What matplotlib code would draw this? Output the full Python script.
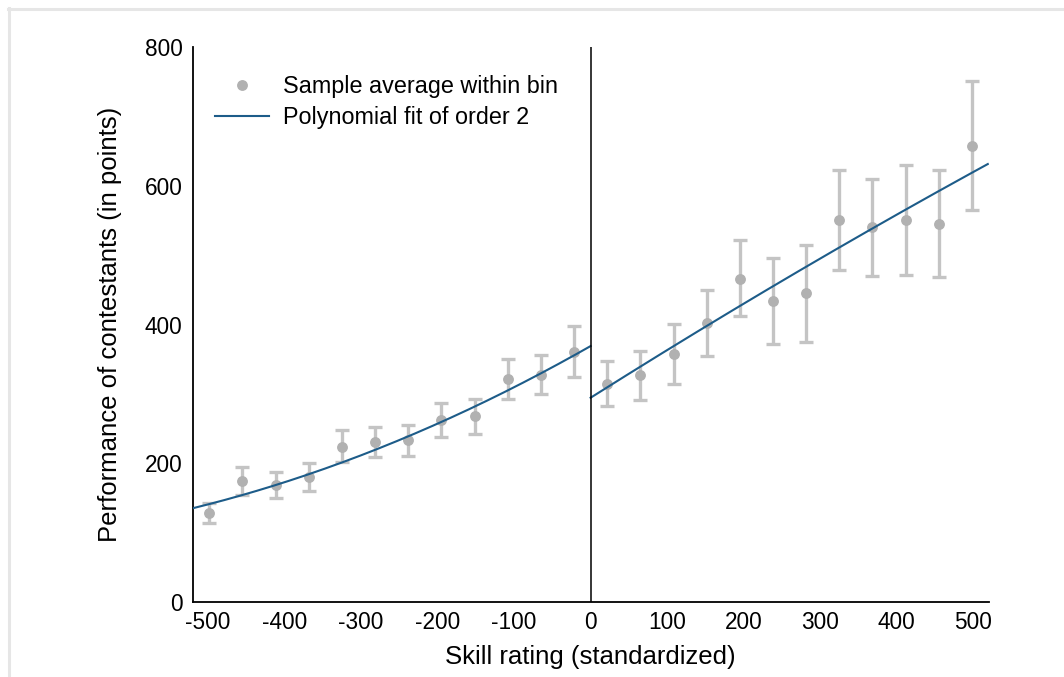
import numpy as np
import matplotlib
matplotlib.use("Agg")
import matplotlib.pyplot as plt
from matplotlib.lines import Line2D

plt.rcParams['font.family'] = ['Liberation Sans', 'DejaVu Sans']
plt.rcParams['axes.unicode_minus'] = False

# ---- data ----
x_left = [-498.3, -455.0, -411.7, -368.3, -325.0, -281.7, -238.3, -195.0, -151.7, -108.3, -65.0, -21.7]
y_left = [129, 175, 169, 181, 224, 231, 234, 262, 268, 321, 328, 361]
lo_left = [114, 155, 150, 160, 202, 209, 211, 238, 243, 293, 300, 324]
hi_left = [143, 195, 188, 200, 248, 253, 256, 287, 293, 351, 356, 398]

x_right = [21.7, 65.0, 108.3, 151.7, 195.0, 238.3, 281.7, 325.0, 368.3, 411.7, 455.0, 498.3]
y_right = [315, 327, 358, 402, 466, 434, 445, 550, 540, 550, 545, 657]
lo_right = [283, 292, 315, 354, 412, 372, 375, 478, 470, 472, 468, 565]
hi_right = [348, 362, 401, 449, 521, 496, 514, 623, 610, 629, 623, 751]

# quadratic fit coefficients (highest power first), each side of the cutoff
fit_left = [3.42e-4, 0.627, 369.0]
fit_right = [-9.0e-5, 0.695, 294.6]

x_ticks = [-500, -400, -300, -200, -100, 0, 100, 200, 300, 400, 500]
y_ticks = [0, 200, 400, 600, 800]

# ---- styling ----
dot_color = '#b1b1b1'
bar_color = '#c4c4c4'
line_color = '#1d5c89'

fig = plt.figure(figsize=(10.64, 6.77), dpi=100)
ax = fig.add_axes([0.1811, 0.1103, 0.748, 0.8207])

for xs, ys, lo, hi in [(x_left, y_left, lo_left, hi_left), (x_right, y_right, lo_right, hi_right)]:
    ys = np.array(ys, float)
    yerr = np.vstack([ys - np.array(lo, float), np.array(hi, float) - ys])
    ax.errorbar(xs, ys, yerr=yerr, fmt='none', ecolor=bar_color, elinewidth=2.4,
                capsize=5, capthick=2.4, zorder=2)
    ax.plot(xs, ys, 'o', color=dot_color, markersize=6.8, zorder=3)

xl = np.linspace(-520, 0, 200)
xr = np.linspace(0, 519, 200)
ax.plot(xl, np.polyval(fit_left, xl), color=line_color, lw=1.5, zorder=4)
ax.plot(xr, np.polyval(fit_right, xr), color=line_color, lw=1.5, zorder=4)

ax.axvline(0, color='black', lw=1.1, zorder=5)

ax.set_xlim(-520, 520)
ax.set_ylim(0, 800)
ax.set_xticks(x_ticks)
ax.set_yticks(y_ticks)
ax.tick_params(axis='both', length=0, labelsize=16.3)
ax.tick_params(axis='y', pad=7.2)
ax.tick_params(axis='x', pad=6)
for s in ['top', 'right']:
    ax.spines[s].set_visible(False)
for s in ['left', 'bottom']:
    ax.spines[s].set_linewidth(1.3)
    ax.spines[s].set_color('black')

ax.set_xlabel('Skill rating (standardized)', fontsize=18.5)
ax.set_ylabel('Performance of contestants (in points)', fontsize=18.5)
ax.xaxis.set_label_coords(0.5, -0.077)
ax.yaxis.set_label_coords(-0.089, 0.5)

handles = [Line2D([], [], marker='o', linestyle='none', color=dot_color, markersize=6.8),
           Line2D([], [], color=line_color, lw=1.5)]
ax.legend(handles, ['Sample average within bin', 'Polynomial fit of order 2'],
          loc='upper left', bbox_to_anchor=(0.028, 0.949), frameon=False,
          fontsize=16.8, borderpad=0, borderaxespad=0, handlelength=2.3,
          handletextpad=0.62, labelspacing=0.36)

# light grey page frame (top and left)
fig.add_artist(Line2D([8 / 1064, 1.0], [1 - 9 / 677, 1 - 9 / 677], transform=fig.transFigure,
                      color='#e6e6e6', lw=2.2))
fig.add_artist(Line2D([9 / 1064, 9 / 1064], [0.0, 1 - 8 / 677], transform=fig.transFigure,
                      color='#e6e6e6', lw=2.2))

fig.savefig('out.png', dpi=100)
